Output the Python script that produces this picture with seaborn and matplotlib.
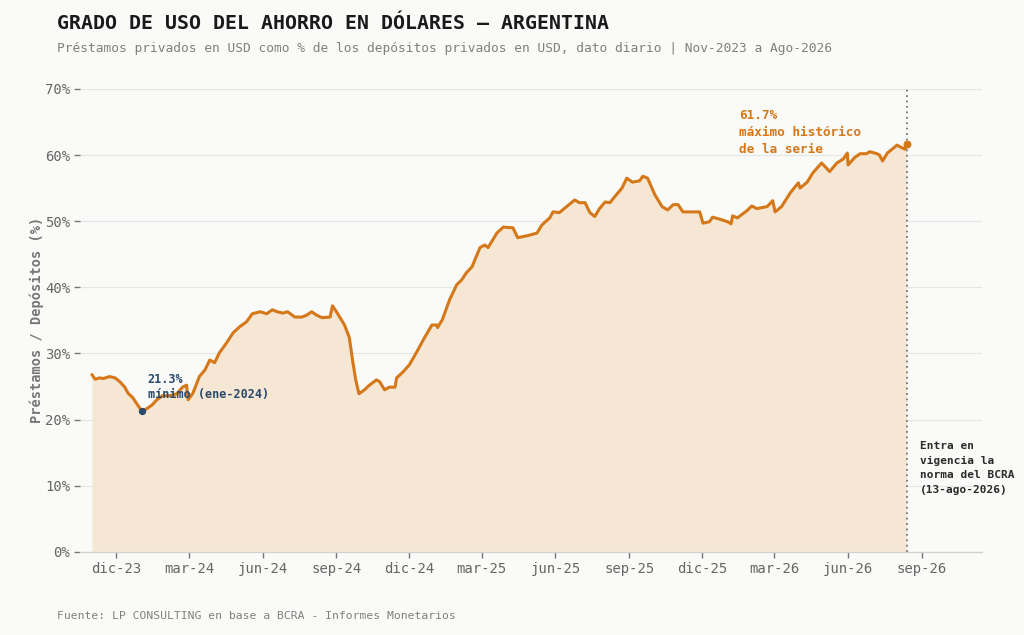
import pandas as pd
import matplotlib.pyplot as plt
from matplotlib.ticker import FuncFormatter
import seaborn as sns

dates = [
    "2023-11-01", "2023-11-05", "2023-11-11", "2023-11-15", "2023-11-23", "2023-11-30",
    "2023-12-06", "2023-12-12", "2023-12-16", "2023-12-22", "2023-12-28", "2024-01-02",
    "2024-01-08", "2024-01-15", "2024-01-21", "2024-01-28", "2024-02-06", "2024-02-15",
    "2024-02-22", "2024-02-27", "2024-02-29", "2024-03-06", "2024-03-14", "2024-03-21",
    "2024-03-27", "2024-04-02", "2024-04-08", "2024-04-17", "2024-04-25", "2024-05-03",
    "2024-05-12", "2024-05-19", "2024-05-29", "2024-06-06", "2024-06-13", "2024-06-19",
    "2024-06-26", "2024-07-02", "2024-07-11", "2024-07-20", "2024-07-26", "2024-08-01",
    "2024-08-07", "2024-08-14", "2024-08-24", "2024-08-27", "2024-09-02", "2024-09-11",
    "2024-09-17", "2024-09-21", "2024-09-25", "2024-09-29", "2024-10-06", "2024-10-12",
    "2024-10-21", "2024-10-25", "2024-10-31", "2024-11-06", "2024-11-13", "2024-11-15",
    "2024-11-23", "2024-12-01", "2024-12-10", "2024-12-18", "2024-12-29", "2025-01-04",
    "2025-01-05", "2025-01-11", "2025-01-20", "2025-01-29", "2025-02-04", "2025-02-10",
    "2025-02-17", "2025-02-27", "2025-03-05", "2025-03-09", "2025-03-20", "2025-03-28",
    "2025-04-09", "2025-04-15", "2025-04-27", "2025-05-09", "2025-05-15", "2025-05-25",
    "2025-05-29", "2025-06-06", "2025-06-15", "2025-06-25", "2025-07-01", "2025-07-08",
    "2025-07-14", "2025-07-20", "2025-07-26", "2025-08-02", "2025-08-08", "2025-08-14",
    "2025-08-23", "2025-08-29", "2025-09-05", "2025-09-14", "2025-09-18", "2025-09-24",
    "2025-10-03", "2025-10-12", "2025-10-19", "2025-10-26", "2025-11-01", "2025-11-07",
    "2025-11-16", "2025-11-28", "2025-12-02", "2025-12-10", "2025-12-14", "2025-12-23",
    "2026-01-02", "2026-01-06", "2026-01-08", "2026-01-14", "2026-01-26", "2026-02-01",
    "2026-02-07", "2026-02-20", "2026-02-27", "2026-03-02", "2026-03-10", "2026-03-21",
    "2026-03-31", "2026-04-02", "2026-04-11", "2026-04-18", "2026-04-29", "2026-05-09",
    "2026-05-18", "2026-05-26", "2026-05-31", "2026-06-01", "2026-06-09", "2026-06-16",
    "2026-06-24", "2026-06-28", "2026-07-07", "2026-07-10", "2026-07-14", "2026-07-20",
    "2026-08-01", "2026-08-07", "2026-08-11", "2026-08-13",
]
ratio = [
    26.8, 26.1, 26.3, 26.2, 26.5, 26.3,
    25.7, 24.9, 24.0, 23.3, 22.2, 21.3,
    21.6, 22.2, 23.0, 23.6, 23.6, 23.9,
    24.9, 25.2, 23.0, 24.0, 26.5, 27.5,
    29.0, 28.6, 30.1, 31.6, 33.1, 34.0,
    34.8, 36.0, 36.3, 36.0, 36.6, 36.3,
    36.1, 36.3, 35.5, 35.5, 35.8, 36.3,
    35.8, 35.4, 35.5, 37.2, 36.1, 34.3,
    32.4, 29.0, 26.0, 23.9, 24.5, 25.2,
    26.0, 25.7, 24.5, 24.9, 24.9, 26.3,
    27.2, 28.3, 30.2, 32.0, 34.3, 34.3,
    33.9, 35.1, 38.1, 40.4, 41.1, 42.2,
    43.1, 46.0, 46.4, 46.0, 48.2, 49.1,
    49.0, 47.5, 47.8, 48.2, 49.4, 50.5,
    51.4, 51.3, 52.2, 53.2, 52.8, 52.8,
    51.3, 50.7, 51.9, 52.9, 52.8, 53.7,
    55.0, 56.5, 55.9, 56.1, 56.8, 56.5,
    54.0, 52.2, 51.7, 52.5, 52.5, 51.4,
    51.4, 51.4, 49.7, 49.9, 50.6, 50.3,
    49.9, 49.6, 50.8, 50.5, 51.6, 52.3,
    51.9, 52.2, 53.1, 51.4, 52.2, 54.3,
    55.8, 55.0, 55.9, 57.3, 58.8, 57.5,
    58.8, 59.4, 60.3, 58.5, 59.6, 60.2,
    60.2, 60.5, 60.2, 60.0, 59.1, 60.3,
    61.5, 61.1, 60.9, 61.7,
]

min_date, min_value = "2024-01-02", 21.3
max_date, max_value = "2026-08-13", 61.7
rule_date = "2026-08-13"

tick_dates = pd.date_range("2023-12-01", "2026-09-01", freq="3MS")
month_es = {3: "mar", 6: "jun", 9: "sep", 12: "dic"}
tick_labels = [f"{month_es[d.month]}-{d.strftime('%y')}" for d in tick_dates]

df = pd.DataFrame({"Fecha": pd.to_datetime(dates), "Ratio": ratio})

BG = "#FAFAF8"
ORANGE = "#D4781A"
FILL = "#F6E7D4"
NAVY = "#2B4A6B"

sns.set_theme(style="whitegrid")
plt.rcParams["font.family"] = ["DejaVu Sans Mono"]

fig = plt.figure(figsize=(10.24, 6.35), dpi=100, facecolor=BG)
ax = fig.add_axes([0.078, 0.131, 0.881, 0.729])
ax.set_facecolor(BG)

ax.fill_between(df["Fecha"], df["Ratio"], 0, color=FILL, linewidth=0, zorder=1)
sns.lineplot(data=df, x="Fecha", y="Ratio", ax=ax, color=ORANGE, linewidth=2.2, zorder=3)

# min / max markers
ax.scatter([pd.Timestamp(min_date)], [min_value], s=18, color=NAVY, zorder=4)
ax.scatter([pd.Timestamp(max_date)], [max_value], s=22, color=ORANGE, zorder=4)

ax.axvline(pd.Timestamp(rule_date), color="#777777", linestyle=(0, (1, 2)), linewidth=1.3, zorder=2)

ax.annotate(f"{min_value}%\nmínimo (ene-2024)", xy=(pd.Timestamp(min_date), min_value),
            xytext=(4.5, 27), textcoords="offset points", ha="left", va="top",
            fontsize=8.5, fontweight="bold", color=NAVY, linespacing=1.2)
ax.text(pd.Timestamp("2026-01-16"), 66.9, f"{max_value}%\nmáximo histórico\nde la serie",
        ha="left", va="top", fontsize=9.2, fontweight="bold", color=ORANGE, linespacing=1.4)
ax.text(pd.Timestamp("2026-08-30"), 16.8, "Entra en\nvigencia la\nnorma del BCRA\n(13-ago-2026)",
        ha="left", va="top", fontsize=8, fontweight="bold", color="#2A2A2A", linespacing=1.6)

ax.set_xlim(pd.Timestamp("2023-10-17"), pd.Timestamp("2026-11-15"))
ax.set_ylim(0, 70)
ax.set_yticks(range(0, 71, 10))
ax.yaxis.set_major_formatter(FuncFormatter(lambda v, p: f"{v:.0f}%"))
ax.set_xticks(tick_dates)
ax.set_xticklabels(tick_labels)

ax.grid(axis="y", color="#E6E6E6", linewidth=0.8)
ax.grid(axis="x", visible=False)
for side in ["top", "right", "left"]:
    ax.spines[side].set_visible(False)
ax.spines["bottom"].set_color("#D0D0D0")
ax.spines["bottom"].set_linewidth(0.9)
ax.tick_params(axis="both", colors="#777777", labelsize=10, length=4, width=1, pad=3,
               direction="out", left=True, bottom=True)
ax.tick_params(axis="y", labelcolor="#666666")
ax.tick_params(axis="x", labelcolor="#666666")

ax.set_xlabel("")
ax.set_ylabel("Préstamos / Depósitos (%)", fontsize=9.8, fontweight="bold", color="#777777", labelpad=1)

fig.text(0.056, 0.978, "GRADO DE USO DEL AHORRO EN DÓLARES — ARGENTINA", fontsize=14.3,
         fontweight="bold", color="#1A1A1A", va="top")
fig.text(0.056, 0.934, "Préstamos privados en USD como % de los depósitos privados en USD, dato diario | Nov-2023 a Ago-2026",
         fontsize=9.25, color="#808080", va="top")
fig.text(0.056, 0.022, "Fuente: LP CONSULTING en base a BCRA - Informes Monetarios", fontsize=8.2,
         color="#808080", va="bottom")

fig.savefig("out.png", dpi=100, facecolor=BG)
